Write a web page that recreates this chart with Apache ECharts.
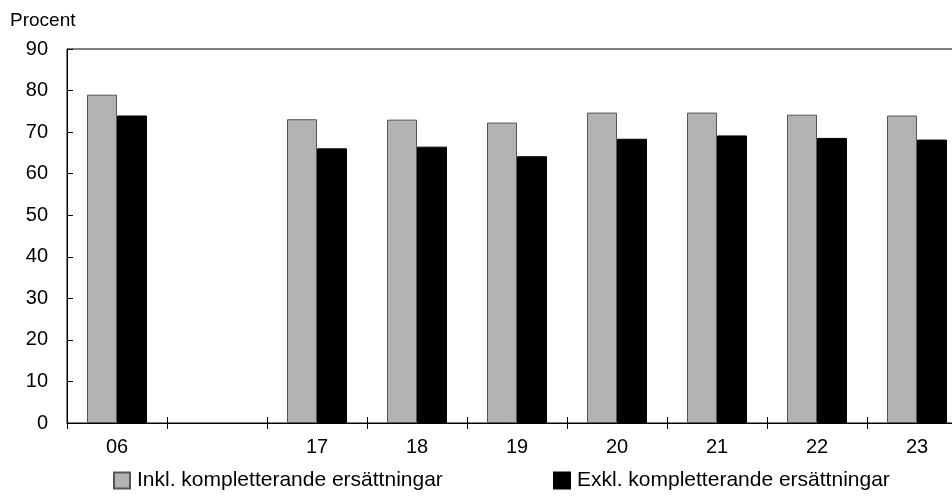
<!DOCTYPE html>
<html>
<head>
<meta charset="utf-8">
<script src="https://cdn.jsdelivr.net/npm/echarts@6/dist/echarts.min.js"></script>
<style>html,body{margin:0;padding:0;background:#fff}#c{width:952px;height:496px}</style>
</head>
<body>
<div id="c"></div>
<script>
var categories = ['06', '', '17', '18', '19', '20', '21', '22', '23'];
var inkl = [79.0, null, 73.1, 73.0, 72.3, 74.7, 74.7, 74.2, 74.0];
var exkl = [74.0, null, 66.1, 66.5, 64.2, 68.4, 69.2, 68.6, 68.2];
var yTicks = [0, 10, 20, 30, 40, 50, 60, 70, 80, 90];
var nameInkl = 'Inkl. kompletterande ersättningar';
var nameExkl = 'Exkl. kompletterande ersättningar';

var chart = echarts.init(document.getElementById('c'), null, {renderer: 'canvas'});
var font = 'Liberation Sans, Arial, sans-serif';
chart.setOption({
  animation: false,
  textStyle: {fontFamily: font},
  grid: {left: 67, top: 49, height: 374, width: 900, outerBoundsMode: 'none', containLabel: false,
         show: true, borderColor: '#000', borderWidth: 1, backgroundColor: 'transparent'},
  graphic: [{type: 'text', left: 10, top: 11, style: {text: 'Procent', font: '19px ' + font, fill: '#000'}}],
  legend: [
    {data: [nameInkl], icon: 'rect', left: 113, top: 470, itemWidth: 16, itemHeight: 16, padding: 0,
     textStyle: {fontSize: 21, color: '#000', fontFamily: font, padding: [0, 0, 0, 2]}},
    {data: [nameExkl], icon: 'rect', left: 553, top: 470, itemWidth: 16, itemHeight: 16, padding: 0,
     textStyle: {fontSize: 21, color: '#000', fontFamily: font, padding: [0, 0, 0, 2]}}
  ],
  xAxis: [
    {type: 'category', data: categories, position: 'bottom',
     axisLine: {lineStyle: {color: '#000', width: 1}},
     axisTick: {show: true, length: 6, lineStyle: {color: '#000'}},
     axisLabel: {fontSize: 20, color: '#000', margin: 14, fontFamily: font},
     splitLine: {show: false}},
    {type: 'category', data: categories, position: 'bottom', gridIndex: 0,
     axisLine: {show: false},
     axisTick: {show: true, inside: true, length: 6, lineStyle: {color: '#000'}},
     axisLabel: {show: false}, splitLine: {show: false}}
  ],
  yAxis: {type: 'value', min: 0, max: 90, interval: 10,
    axisLine: {show: true, lineStyle: {color: '#000', width: 1}},
    axisTick: {show: true, inside: true, length: 6, lineStyle: {color: '#000'}},
    axisLabel: {fontSize: 20, color: '#000', margin: 19, fontFamily: font,
      formatter: function (v) { return yTicks.indexOf(v) >= 0 ? String(v) : ''; }},
    splitLine: {show: false}},
  series: [
    {name: nameInkl, type: 'bar', data: inkl, barWidth: 30, barGap: '0%',
     itemStyle: {color: '#b3b3b3', borderColor: '#555', borderWidth: 1}},
    {name: nameExkl, type: 'bar', data: exkl, barWidth: 30, barGap: '0%',
     itemStyle: {color: '#000', borderColor: '#000', borderWidth: 1}}
  ]
});
</script>
</body>
</html>
